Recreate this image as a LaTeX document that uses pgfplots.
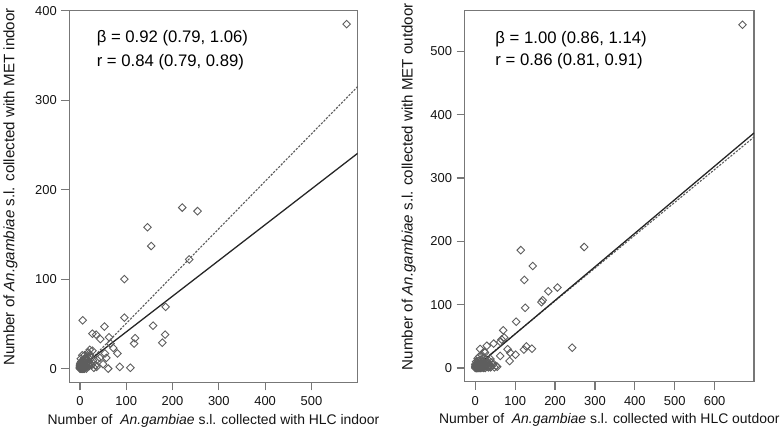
\documentclass[border=0pt]{standalone}
\usepackage{fontspec}
\setmainfont{Liberation Sans}
\usepackage{pgfplots}
\pgfplotsset{compat=1.18}
\definecolor{boxgray}{HTML}{777777}
\definecolor{ptgray}{HTML}{5E5E5E}
\definecolor{linedark}{HTML}{262626}
\definecolor{dashgray}{HTML}{5A5A5A}
\tikzset{annot/.style={anchor=west, inner sep=0, font=\fontsize{16.8}{19}\selectfont, text=black}}
\pgfplotsset{
  rstyle/.style={
    scale only axis,
    axis line style={draw=boxgray, line width=1.2bp},
    tick style={draw=boxgray, line width=1.2bp},
    tick align=outside,
    major tick length=8bp,
    xtick pos=bottom, ytick pos=left,
    ticklabel style={font=\fontsize{13}{15}\selectfont, text=black!92},
    xticklabel style={yshift=-3bp},
    yticklabel style={xshift=-1bp},
    /pgf/number format/assume math mode=true,
    xlabel style={font=\fontsize{14}{16}\selectfont, text=black!92, anchor=center},
    ylabel style={font=\fontsize{15.2}{17}\selectfont, text=black!92, anchor=center},
    clip=true,
  },
  pts/.style={only marks, mark=square, mark size=2.7bp, mark options={draw=ptgray, line width=0.9bp, rotate=45, fill=none}},
  fitline/.style={no marks, linedark, line width=1.3bp},
  fitdash/.style={no marks, dashgray, line width=1.1bp, dash pattern=on 2.2bp off 1.4bp},
}
\begin{document}
\begin{tikzpicture}
\path (0bp,0bp) rectangle (784bp,433bp);
% ---------------- left panel ----------------
\begin{axis}[rstyle,
  at={(68bp,56.3bp)}, anchor=south west,
  width=289bp, height=372.7bp,
  xmin=-23.08, xmax=600.08, ymin=-15.4, ymax=400.4,
  xtick={0,100,...,500}, ytick={0,100,...,400},
  xlabel={Number of \ \textit{An.gambiae} s.l. collected with HLC indoor},
  ylabel={Number of \textit{An.gambiae} s.l. collected with MET indoor},
  xlabel style={at={([yshift=-38.5bp]axis description cs:0.5,0)}},
  ylabel style={at={([xshift=-59bp]axis description cs:0,0.525)}},
]
\addplot[pts] table {
x y
576 385
221 180
254 176
146 158
154 137
236 122
96 100
6 54
96 57
53 47
158 48
185 69
184 38
178 29
119 34
117 28
27 39
35 38
44 33
63 35
66 28
72 23
81 17
57 12
61 0
86 2
109 1
36 2
21 21
22 15
37 10
43 12
50 5
34 4
5 15
7 10
54 17
0 0
1 0
2 1
3 0
4 2
5 1
6 3
8 2
10 0
12 1
14 3
2 4
4 6
6 5
9 7
11 4
13 6
15 2
17 5
19 8
1 3
3 8
7 9
10 11
16 10
20 3
22 6
0 2
5 0
8 5
12 9
18 12
2 11
14 0
25 4
28 9
30 1
3 2
1 6
9 1
24 12
15 14
18 18
10 15
27 20
0 1
1 1
2 0
2 2
3 1
3 3
4 0
4 1
4 4
5 2
5 3
6 0
6 1
6 2
7 0
7 3
7 5
8 1
8 3
9 0
9 4
10 2
11 1
12 3
0 4
1 5
3 5
5 6
8 7
11 2
};
\addplot[fitdash] coordinates {(0,-2.4) (600.08,315.3)};
\addplot[fitline] coordinates {(0,1.1) (600.08,240.7)};
\node[annot] at (axis cs:36,369) {β = 0.92 (0.79, 1.06)};
\node[annot] at (axis cs:36,342) {r = 0.84 (0.79, 0.89)};
\end{axis}
% ---------------- right panel ----------------
\begin{axis}[rstyle,
  at={(464bp,57bp)}, anchor=south west,
  width=290bp, height=372bp,
  xmin=-26.9, xmax=698.9, ymin=-21.72, ymax=564.72,
  xtick={0,100,...,600}, ytick={0,100,...,500},
  xlabel={Number of \ \textit{An.gambiae} s.l. collected with HLC outdoor},
  ylabel={Number of \textit{An.gambiae} s.l. collected with MET outdoor},
  xlabel style={at={([yshift=-38.5bp]axis description cs:0.5,0)}},
  ylabel style={at={([xshift=-56bp]axis description cs:0,0.525)}},
]
\addplot[pts] table {
x y
670 542
114 186
273 191
144 161
123 139
206 127
183 121
169 107
166 104
125 95
102.5 73
70 59.5
243 32
142 30.5
128 34
122 29
101 21
87.5 24
86 11
81 29.5
62.5 19
12 30
29 35
46 38.5
62.5 41
66 45
72.5 48
22.5 26
0 0
2 1
4 0
6 2
8 1
10 3
12 0
14 2
16 5
18 1
20 4
22 2
25 0
28 3
30 6
33 1
36 4
40 2
44 5
48 1
52 3
55 2
3 5
5 8
7 11
9 6
11 9
13 13
15 7
19 10
23 8
26 12
31 9
35 11
1 3
6 15
10 18
17 20
21 16
24 24
38 14
42 9
2 10
0 2
1 1
1 4
2 3
3 0
3 2
4 3
5 1
5 5
6 0
7 2
7 4
8 6
9 0
9 3
10 1
11 5
12 2
13 4
14 0
15 3
17 1
19 6
21 0
24 3
27 5
32 2
34 7
38 1
0 6
};
\addplot[fitdash] coordinates {(0,2.0) (698.9,364.7)};
\addplot[fitline] coordinates {(0,0.7) (698.9,371.1)};
\node[annot] at (axis cs:50,519) {β = 1.00 (0.86, 1.14)};
\node[annot] at (axis cs:50,485) {r = 0.86 (0.81, 0.91)};
\end{axis}
\end{tikzpicture}
\end{document}
